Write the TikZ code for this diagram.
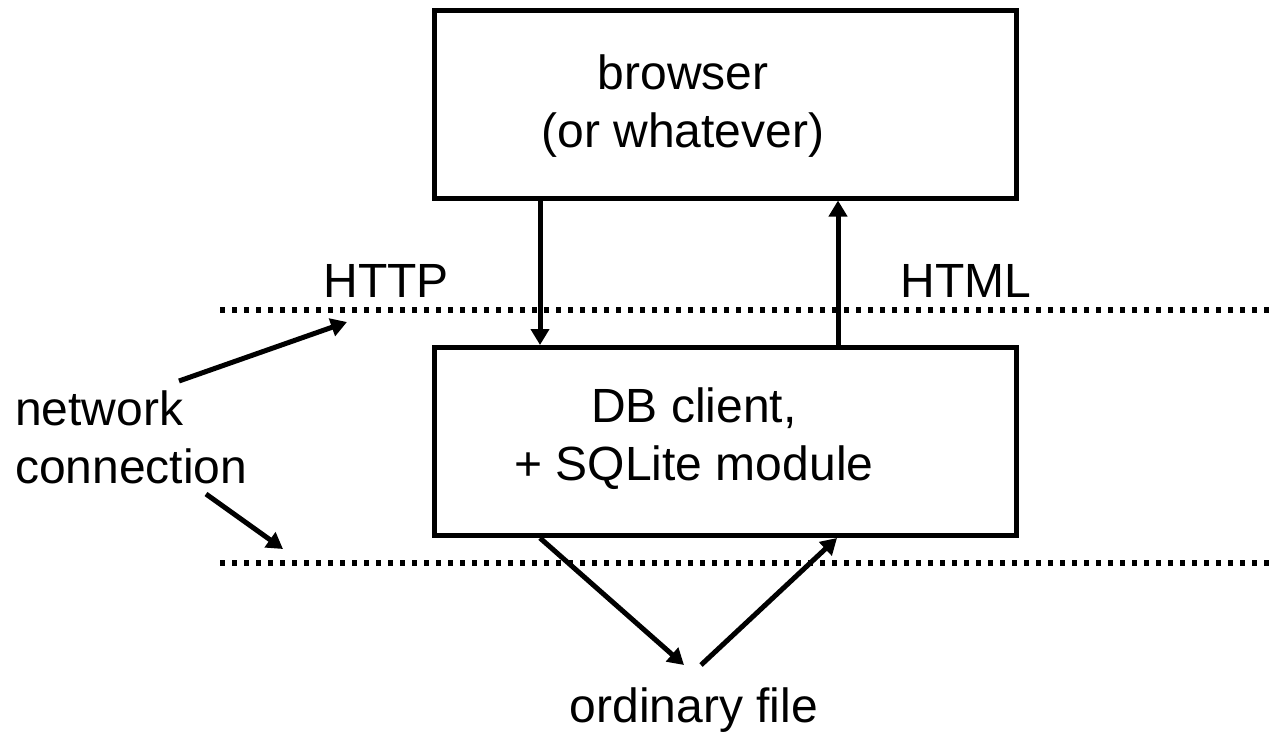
\documentclass[tikz,border=0pt]{standalone}
\usepackage{fontspec}
\setmainfont{Liberation Sans}
\usetikzlibrary{arrows.meta}

\tikzset{
  box/.style={draw, line width=2.5pt, minimum width=291pt, minimum height=94pt},
  txt/.style={align=center, font=\fontsize{24}{29}\selectfont},
  arr/.style={line width=2.5pt, -{Triangle[length=8pt,width=9pt]}},
  border/.style={line width=2.6pt, dash pattern=on 2.6pt off 3.4pt}
}

\begin{document}
\begin{tikzpicture}[x=0.5pt, y=-0.5pt]
        \useasboundingbox (0,0) rectangle (1272,735);

        % the two boxes
        \node[box] (browser) at (725.5,104) {};
        \node[txt] (browsertxt) at (683,106) {browser\\(or whatever)};
        \node[box] (db) at (725.5,441.5) {};
        \node[txt] (dbtxt) at (694,439) {DB client,\\+ SQLite module};

        % labels
        \node[txt] (http) at (386,281) {HTTP};
        \node[txt] (html) at (966,281) {HTML};
        \node[txt, align=left, anchor=west] (net) at (8,437) {network\\connection};
        \node[txt] (file) at (694,710) {ordinary file};

        % network borders
        \coordinate (b1l) at (220,310);
        \coordinate (b1r) at (1272,310);
        \coordinate (b2l) at (220,563);
        \coordinate (b2r) at (1272,563);
        \draw[border] (b1l) -- (b1r);
        \draw[border] (b2l) -- (b2r);

        % requests and answers
        \draw[arr] (browser.south -| 540,0) -- (db.north -| 540,0);
        \draw[arr] (db.north -| 838,0) -- (browser.south -| 838,0);
        \coordinate (f1) at (684,665);
        \coordinate (f2) at (701,665);
        \draw[arr] (db.south -| 540,0) -- (f1);
        \draw[arr] (f2) -- (db.south -| 837,0);

        % pointers from the label
        \coordinate (n1) at (179,381);
        \coordinate (n2) at (206,494);
        \coordinate (t1) at (347,322);
        \coordinate (t2) at (283,549);
        \draw[arr] (n1) -- (t1);
        \draw[arr] (n2) -- (t2);
\end{tikzpicture}
\end{document}
